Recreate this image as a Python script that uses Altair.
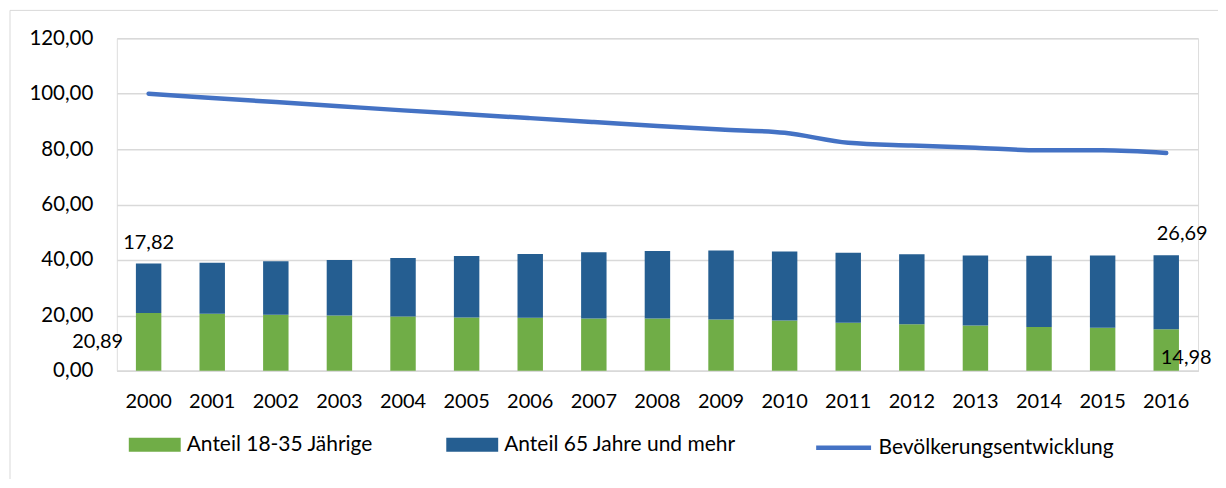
import altair as alt
import pandas as pd

years = [str(y) for y in range(2000, 2017)]
anteil_18_35 = [20.89, 20.60, 20.20, 19.95, 19.60, 19.25, 19.10, 18.90, 18.85,
                18.50, 18.15, 17.35, 16.80, 16.35, 15.85, 15.55, 14.98]
anteil_65 = [17.82, 18.40, 19.30, 20.05, 21.10, 22.15, 23.10, 23.90, 24.35,
             24.90, 24.95, 25.25, 25.30, 25.25, 25.65, 26.05, 26.69]
bevoelkerung = [100.00, 98.50, 97.00, 95.50, 94.00, 92.60, 91.20, 89.80, 88.40,
                87.10, 85.90, 82.30, 81.30, 80.50, 79.60, 79.60, 78.60]
y_ticks = [0, 20, 40, 60, 80, 100, 120]
series_names = ["Anteil 18-35 Jährige", "Anteil 65 Jahre und mehr", "Bevölkerungsentwicklung"]
colors = ["#70AD47", "#255E91", "#4472C4"]

df = pd.DataFrame({"Jahr": years, "jung": anteil_18_35, "senior": anteil_65, "bev": bevoelkerung})

FONT = "Lato"
fmt = "replace(format({v}, '.2f'), '.', ',')"

base = alt.Chart(df).transform_calculate(
    tot="datum.jung + datum.senior",
    mid="datum.jung / 2",
    s1=f"'{series_names[0]}'",
    s2=f"'{series_names[1]}'",
    s3=f"'{series_names[2]}'",
    lbl_jung=fmt.format(v="datum.jung"),
    lbl_senior=fmt.format(v="datum.senior"),
)

x_enc = alt.X(
    "Jahr:N",
    title=None,
    scale=alt.Scale(paddingInner=0.6, paddingOuter=0.3),
    axis=alt.Axis(labelAngle=0, domain=True, domainColor="#D9D9D9", domainWidth=1.5,
                  ticks=False, tickSize=0, labelPadding=31, labelBaseline="middle",
                  labelFont=FONT, labelFontSize=20, labelColor="#000000", grid=False),
)
y_scale = alt.Scale(domain=[0, 120])

legend_common = dict(orient="none", title=None, direction="horizontal", padding=0,
                     symbolOffset=0, labelFont=FONT, labelFontSize=21,
                     labelColor="#000000", labelLimit=500)

green = base.mark_bar().encode(
    x=x_enc,
    y=alt.Y("jung:Q", scale=y_scale, title=None,
            axis=alt.Axis(values=y_ticks, labelExpr=fmt.format(v="datum.value"),
                          grid=True, gridColor="#D9D9D9", gridWidth=1.5,
                          domain=False, ticks=False, tickSize=0, labelPadding=24,
                          labelFont=FONT, labelFontSize=20.5, labelColor="#000000")),
    color=alt.Color("s1:N", scale=alt.Scale(domain=[series_names[0]], range=[colors[0]]),
                    legend=alt.Legend(legendX=12, legendY=381,
                                      symbolType="M-1,-0.27H1V0.27H-1Z", symbolSize=2704,
                                      symbolStrokeWidth=0, labelOffset=6, **legend_common)),
)

blue = base.mark_bar().encode(
    x=x_enc,
    y=alt.Y("tot:Q", scale=y_scale),
    y2="jung:Q",
    fill=alt.Fill("s2:N", scale=alt.Scale(domain=[series_names[1]], range=[colors[1]]),
                  legend=alt.Legend(legendX=330, legendY=381,
                                    symbolType="M-1,-0.27H1V0.27H-1Z", symbolSize=2704,
                                    symbolStrokeWidth=0, labelOffset=6, **legend_common)),
)

line = base.mark_line(strokeWidth=4.5, interpolate="monotone", strokeCap="round").encode(
    x=x_enc,
    y=alt.Y("bev:Q", scale=y_scale),
    stroke=alt.Stroke("s3:N", scale=alt.Scale(domain=[series_names[2]], range=[colors[2]]),
                      legend=alt.Legend(legendX=698, legendY=380,
                                        symbolType="stroke", symbolSize=3025,
                                        symbolStrokeWidth=4.5, labelOffset=5, **legend_common)),
)

txt = dict(font=FONT, fontSize=20, color="#000000", baseline="middle", align="center")

lbl_first_senior = base.transform_filter(f"datum.Jahr == '{years[0]}'").mark_text(dy=-21, **txt).encode(
    x=x_enc, y=alt.Y("tot:Q", scale=y_scale), text="lbl_senior:N")
lbl_first_jung = base.transform_filter(f"datum.Jahr == '{years[0]}'").mark_text(dx=-51, **txt).encode(
    x=x_enc, y=alt.Y("mid:Q", scale=y_scale), text="lbl_jung:N")
lbl_last_senior = base.transform_filter(f"datum.Jahr == '{years[-1]}'").mark_text(dy=-21, dx=16, **txt).encode(
    x=x_enc, y=alt.Y("tot:Q", scale=y_scale), text="lbl_senior:N")
lbl_last_jung = base.transform_filter(f"datum.Jahr == '{years[-1]}'").mark_text(dy=8, dx=20, **txt).encode(
    x=x_enc, y=alt.Y("mid:Q", scale=y_scale), text="lbl_jung:N")

frame_src = alt.Chart(pd.DataFrame({"f": [0]}))
frame_top = frame_src.mark_rule(color="#D9D9D9", strokeWidth=1).encode(
    x=alt.value(-107), x2=alt.value(1300), y=alt.value(-28))
frame_left = frame_src.mark_rule(color="#D9D9D9", strokeWidth=1).encode(
    x=alt.value(-107), y=alt.value(-28), y2=alt.value(600))

chart = alt.layer(
    green, blue, line,
    lbl_first_senior, lbl_first_jung, lbl_last_senior, lbl_last_jung,
    frame_top, frame_left,
).properties(
    width=1083, height=333,
    padding={"left": 109, "top": 30, "right": 20, "bottom": 108},
    autosize=alt.AutoSizeParams(type="none"),
).configure_view(stroke=None).configure(font=FONT)

chart.save("out.html", embed_options={"renderer": "svg", "actions": False})
